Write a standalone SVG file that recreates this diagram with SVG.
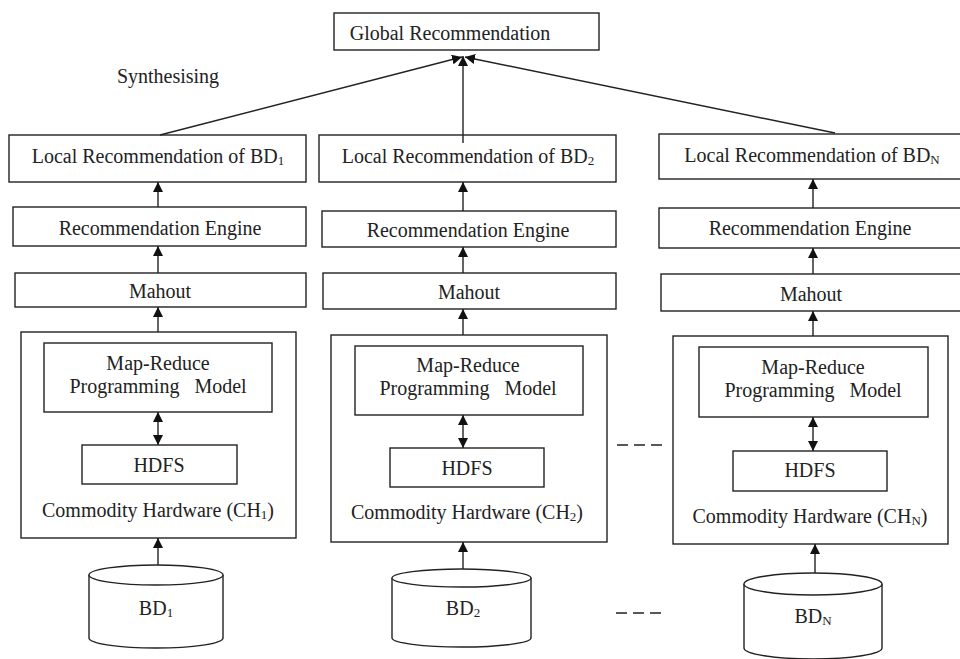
<svg xmlns="http://www.w3.org/2000/svg" width="960" height="659" viewBox="0 0 960 659">
<style>
rect,.cyl{fill:#fff;stroke:#222;stroke-width:1.4}
text{font-family:'Liberation Serif',Tinos,'DejaVu Serif','Noto Serif',serif;font-size:20px;fill:#222;text-anchor:middle}
.sub{font-size:13px}
.c line{stroke:#222;stroke-width:1.4;fill:none}
.dash{stroke:#222;stroke-width:1.4;stroke-dasharray:11 6}
</style>
<defs>
<marker id="ah" viewBox="0 0 10 10" refX="10" refY="5" markerWidth="10" markerHeight="10" markerUnits="userSpaceOnUse" orient="auto-start-reverse">
<path d="M0,0 L10,5 L0,10 z" fill="#111"/>
</marker>
</defs>
<rect width="960" height="659" style="fill:#fff;stroke:none"/>
<g id="global"><rect x="334" y="13" width="265" height="37"/><text x="450" y="40">Global Recommendation</text></g>
<text id="synth" x="168" y="83">Synthesising</text>
<g id="local1"><rect x="9" y="135" width="297" height="47"/><text x="158" y="163">Local Recommendation of BD<tspan class="sub" dy="2">1</tspan></text></g>
<g id="local2"><rect x="319" y="135" width="297" height="47"/><text x="468" y="163">Local Recommendation of BD<tspan class="sub" dy="2">2</tspan></text></g>
<g id="localN"><rect x="659" y="134" width="303" height="45"/><text x="812" y="162">Local Recommendation of BD<tspan class="sub" dy="2">N</tspan></text></g>
<g id="engine1"><rect x="13" y="207" width="293" height="39"/><text x="160" y="235">Recommendation Engine</text></g>
<g id="engine2"><rect x="322" y="211" width="294" height="36"/><text x="468" y="237">Recommendation Engine</text></g>
<g id="engineN"><rect x="659" y="208" width="303" height="40"/><text x="810" y="235">Recommendation Engine</text></g>
<g id="mahout1"><rect x="15" y="273" width="291" height="34"/><text x="160" y="298">Mahout</text></g>
<g id="mahout2"><rect x="323" y="273" width="293" height="36"/><text x="469" y="299">Mahout</text></g>
<g id="mahoutN"><rect x="661" y="274" width="301" height="37"/><text x="811" y="301">Mahout</text></g>
<g id="ch1"><rect x="21" y="332" width="275" height="206"/><text x="158" y="517">Commodity Hardware (CH<tspan class="sub" dy="2">1</tspan><tspan dy="-2">)</tspan></text></g>
<g id="ch2"><rect x="331" y="335" width="276" height="207"/><text x="467" y="519">Commodity Hardware (CH<tspan class="sub" dy="2">2</tspan><tspan dy="-2">)</tspan></text></g>
<g id="chN"><rect x="673" y="336" width="275" height="208"/><text x="810" y="523">Commodity Hardware (CH<tspan class="sub" dy="2">N</tspan><tspan dy="-2">)</tspan></text></g>
<g id="mr1"><rect x="44" y="343" width="228" height="69"/><text x="158" y="370">Map-Reduce</text><text x="158" y="393" xml:space="preserve">Programming   Model</text></g>
<g id="mr2"><rect x="355" y="346" width="228" height="69"/><text x="468" y="372">Map-Reduce</text><text x="468" y="395" xml:space="preserve">Programming   Model</text></g>
<g id="mrN"><rect x="699" y="347" width="229" height="70"/><text x="813" y="374">Map-Reduce</text><text x="813" y="397" xml:space="preserve">Programming   Model</text></g>
<g id="hdfs1"><rect x="82" y="445" width="155" height="39"/><text x="159" y="472">HDFS</text></g>
<g id="hdfs2"><rect x="390" y="448" width="154" height="39"/><text x="467" y="475">HDFS</text></g>
<g id="hdfsN"><rect x="733" y="451" width="154" height="40"/><text x="810" y="477">HDFS</text></g>
<g id="bd1"><path class="cyl" d="M89,575 L89,638 A67,10 0 0 0 223,638 L223,575"/><ellipse class="cyl" cx="156" cy="575" rx="67" ry="10"/><text x="156" y="615">BD<tspan class="sub" dy="2">1</tspan></text></g>
<g id="bd2"><path class="cyl" d="M392,578 L392,638 A69.5,9 0 0 0 531,638 L531,578"/><ellipse class="cyl" cx="461.5" cy="578" rx="69.5" ry="9"/><text x="463" y="615">BD<tspan class="sub" dy="2">2</tspan></text></g>
<g id="bdN"><path class="cyl" d="M744,584 L744,648 A69,11 0 0 0 882,648 L882,584"/><ellipse class="cyl" cx="813" cy="584" rx="69" ry="11"/><text x="813" y="623">BD<tspan class="sub" dy="2">N</tspan></text></g>
<g id="connectors" class="c">
<line x1="160" y1="135" x2="462" y2="57" marker-end="url(#ah)"/>
<line x1="463" y1="143" x2="463" y2="56" marker-end="url(#ah)"/>
<line x1="835" y1="133" x2="465" y2="57" marker-end="url(#ah)"/>
<line x1="158" y1="207" x2="158" y2="182" marker-end="url(#ah)"/>
<line x1="158" y1="273" x2="158" y2="246" marker-end="url(#ah)"/>
<line x1="158" y1="332" x2="158" y2="307" marker-end="url(#ah)"/>
<line x1="158" y1="412" x2="158" y2="445" marker-start="url(#ah)" marker-end="url(#ah)"/>
<line x1="158" y1="565" x2="158" y2="538" marker-end="url(#ah)"/>
<line x1="463" y1="211" x2="463" y2="182" marker-end="url(#ah)"/>
<line x1="463" y1="273" x2="463" y2="247" marker-end="url(#ah)"/>
<line x1="463" y1="335" x2="463" y2="309" marker-end="url(#ah)"/>
<line x1="463" y1="415" x2="463" y2="448" marker-start="url(#ah)" marker-end="url(#ah)"/>
<line x1="463" y1="569" x2="463" y2="542" marker-end="url(#ah)"/>
<line x1="813" y1="208" x2="813" y2="179" marker-end="url(#ah)"/>
<line x1="813" y1="274" x2="813" y2="248" marker-end="url(#ah)"/>
<line x1="813" y1="336" x2="813" y2="311" marker-end="url(#ah)"/>
<line x1="813" y1="417" x2="813" y2="451" marker-start="url(#ah)" marker-end="url(#ah)"/>
<line x1="815" y1="573" x2="815" y2="544" marker-end="url(#ah)"/>
</g>
<line class="dash" x1="617" y1="445" x2="663" y2="445"/>
<line class="dash" x1="616" y1="613" x2="662" y2="613"/>
</svg>
